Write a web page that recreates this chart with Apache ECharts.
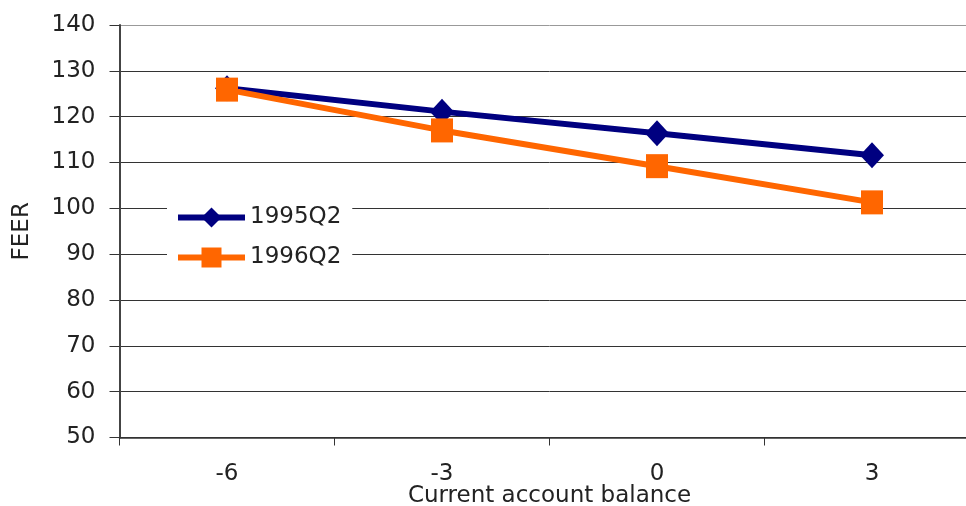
<!DOCTYPE html>
<html>
<head>
<meta charset="utf-8">
<script src="https://cdn.jsdelivr.net/npm/echarts@6/dist/echarts.min.js"></script>
<style>
  html, body { margin: 0; padding: 0; background: #fff; overflow: hidden; }
  /* plot runs past the right edge of the window, as in the original */
  #chart { width: 980px; height: 506px; }
</style>
</head>
<body>
<div id="chart"></div>
<script>
// data
var balance = ["-6", "-3", "0", "3"];
var feer1995 = [126.2, 121.1, 116.4, 111.6];
var feer1996 = [125.9, 117.0, 109.2, 101.3];
var yTicks = [50, 60, 70, 80, 90, 100, 110, 120, 130, 140];

var myChart = echarts.init(document.getElementById("chart"));
var font = "DejaVu Sans, Liberation Sans, sans-serif";
var fontSize = 23;
// splitLine colours, top border lighter
var gridColors = yTicks.map(function (v, i) {
  return i === yTicks.length - 1 ? "#999" : "#333";
});

var option = {
  animation: false,
  textStyle: { fontFamily: font },
  grid: {
    left: 119.5,
    right: 0.5,
    top: 25,
    bottom: 68.5,
    outerBoundsMode: "none"
  },
  legend: {
    orient: "vertical",
    left: 167,
    top: 200,
    padding: [6, 11, 6, 8],
    backgroundColor: "#fff",
    itemWidth: 67,
    itemHeight: 25,
    itemGap: 17,
    lineStyle: { width: 6 },
    textStyle: { fontSize: fontSize, color: "#222", fontFamily: font },
    data: ["1995Q2", "1996Q2"]
  },
  xAxis: {
    type: "category",
    data: balance,
    boundaryGap: true,
    name: "Current account balance",
    nameLocation: "middle",
    nameGap: 59,
    nameMoveOverlap: false,
    nameTextStyle: { fontSize: fontSize, color: "#222", fontFamily: font, verticalAlign: "middle" },
    axisLine: { lineStyle: { color: "#333", width: 1.5 } },
    axisTick: { show: true, length: 8, lineStyle: { color: "#333" } },
    axisLabel: { fontSize: fontSize, color: "#222", margin: 25, fontFamily: font },
    splitLine: { show: false }
  },
  yAxis: {
    type: "value",
    min: 50,
    max: 140,
    interval: 10,
    name: "FEER",
    nameLocation: "middle",
    nameGap: 86,
    nameRotate: 90,
    nameTextStyle: { fontSize: fontSize, color: "#222", fontFamily: font },
    axisLine: { show: true, lineStyle: { color: "#444", width: 2 } },
    axisTick: { show: true, length: 10, lineStyle: { color: "#333" } },
    axisLabel: { fontSize: fontSize, color: "#222", margin: 24, fontFamily: font },
    splitLine: { show: true, lineStyle: { color: gridColors, width: 1 } }
  },
  series: [
    {
      name: "1995Q2",
      type: "line",
      data: feer1995,
      color: "#000080",
      symbol: "diamond",
      symbolSize: [24, 26],
      lineStyle: { width: 6, color: "#000080" },
      itemStyle: { color: "#000080" }
    },
    {
      name: "1996Q2",
      type: "line",
      data: feer1996,
      color: "#FF6600",
      symbol: "rect",
      symbolSize: [22, 24],
      lineStyle: { width: 6, color: "#FF6600" },
      itemStyle: { color: "#FF6600" }
    }
  ]
};

myChart.setOption(option);
window.addEventListener("resize", function () {
  myChart.resize();
});
</script>
</body>
</html>
